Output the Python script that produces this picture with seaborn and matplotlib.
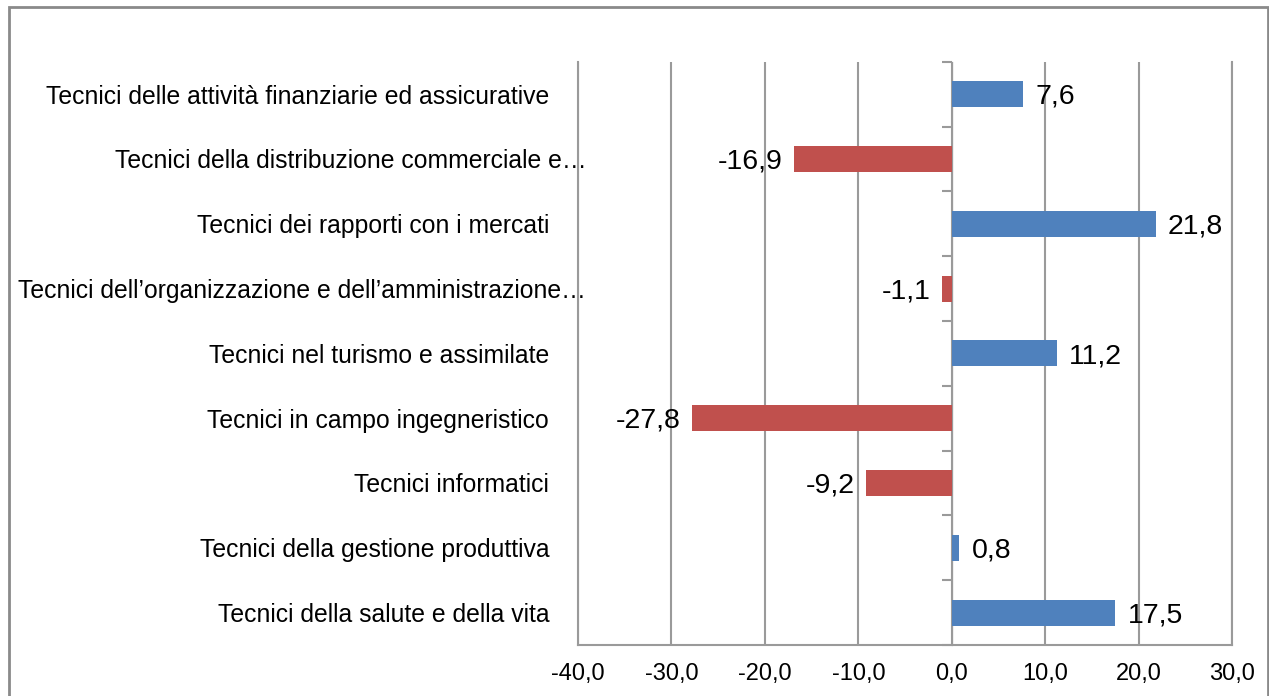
import matplotlib
matplotlib.use('Agg')
import matplotlib.pyplot as plt
from matplotlib.patches import Rectangle
import seaborn as sns
import pandas as pd

# Dati (dall'alto verso il basso)
categorie = [
    'Tecnici delle attività finanziarie ed assicurative ',
    'Tecnici della distribuzione commerciale e…',
    'Tecnici dei rapporti con i mercati ',
    'Tecnici dell’organizzazione e dell’amministrazione…',
    'Tecnici nel turismo e assimilate ',
    'Tecnici in campo ingegneristico ',
    'Tecnici informatici ',
    'Tecnici della gestione produttiva ',
    'Tecnici della salute e della vita ',
]
valori = [7.6, -16.9, 21.8, -1.1, 11.2, -27.8, -9.2, 0.8, 17.5]
x_ticks = [-40, -30, -20, -10, 0, 10, 20, 30]

BLU = '#4F81BD'
ROSSO = '#C0504D'
GRIGIO = '#9a9a9a'

sns.set_style('white')
plt.rcParams['font.family'] = ['Liberation Sans', 'DejaVu Sans']
plt.rcParams['text.color'] = 'black'
plt.rcParams['xtick.labelcolor'] = 'black'
plt.rcParams['ytick.labelcolor'] = 'black'

df = pd.DataFrame({'cat': categorie, 'val': valori})
df['segno'] = ['pos' if v >= 0 else 'neg' for v in valori]

fig = plt.figure(figsize=(12.69, 6.96), dpi=100)
ax = fig.add_axes([0.4555, 0.0733, 0.5155, 0.838])

sns.barplot(data=df, y='cat', x='val', hue='segno', orient='h',
            palette={'pos': BLU, 'neg': ROSSO}, width=0.4, dodge=False,
            legend=False, ax=ax, saturation=1, linewidth=0)

ax.set_xlim(-40, 30)
ax.set_xticks(x_ticks)
ax.set_xticklabels([f'{t:.1f}'.replace('.', ',') for t in x_ticks], fontsize=17)
# lo spazio finale delle etichette viene reso più largo, come in Excel
ax.set_yticks(range(len(categorie)))
ax.set_yticklabels([c[:-1] + '\u2003\u2002' if c.endswith(' ') else c for c in categorie])
ax.set_xlabel('')
ax.set_ylabel('')
ax.tick_params(axis='y', length=0, labelsize=17.8, pad=-6, labelcolor='black')
ax.tick_params(axis='x', length=7, width=1.5, color=GRIGIO, direction='out', pad=6,
               labelcolor='black')

# griglia verticale
ax.grid(axis='x', color=GRIGIO, linewidth=1.5)
ax.set_axisbelow(True)
ax.spines['top'].set_visible(False)
for s in ['bottom', 'left', 'right']:
    ax.spines[s].set_color(GRIGIO)
    ax.spines[s].set_linewidth(1.5)

# asse verticale in corrispondenza dello zero, con tacche tra le categorie
sec = ax.secondary_yaxis(4 / 7)
sec.spines['left'].set_color(GRIGIO)
sec.spines['left'].set_linewidth(1.5)
sec.set_yticks([i + 0.5 for i in range(-1, len(categorie))])
sec.set_yticklabels([])
sec.tick_params(length=7, width=1.5, color=GRIGIO, direction='in')

# etichette dei valori
for i, v in enumerate(valori):
    testo = f'{v:.1f}'.replace('.', ',')
    if v >= 0:
        ax.annotate(testo, (v, i), xytext=(9, -2), textcoords='offset points',
                    ha='left', va='center', fontsize=20.5, color='black')
    else:
        ax.annotate(testo, (v, i), xytext=(-8, -2), textcoords='offset points',
                    ha='right', va='center', fontsize=20.5, color='black')

# bordo della figura
fig.patches.append(Rectangle((9 / 1269, -0.1), 1259 / 1269, 1.1 - 7 / 696,
                             transform=fig.transFigure, fill=False,
                             edgecolor='#8a8a8a', linewidth=2))

fig.savefig('out.png', dpi=100)
